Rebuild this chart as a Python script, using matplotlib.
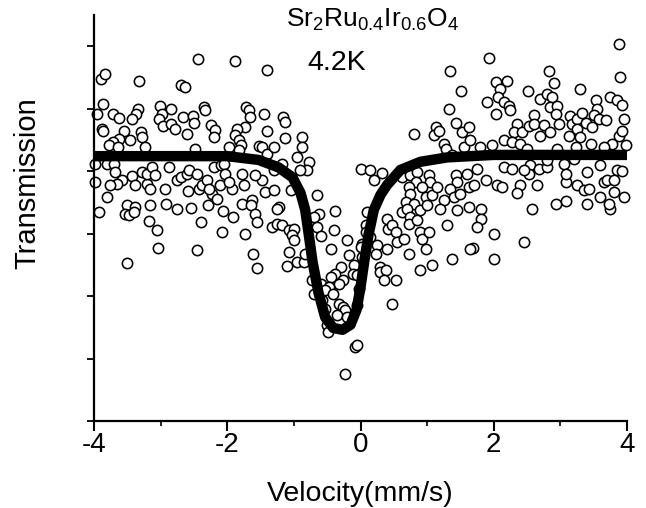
import matplotlib
matplotlib.use("Agg")
import matplotlib.pyplot as plt
from matplotlib.ticker import MultipleLocator

plt.rcParams['font.family'] = ['Liberation Sans', 'DejaVu Sans']
plt.rcParams['mathtext.fontset'] = 'custom'
plt.rcParams['mathtext.rm'] = 'Liberation Sans'
plt.rcParams['mathtext.it'] = 'Liberation Sans:italic'

# measured spectrum: velocity (mm/s) and transmission (arbitrary units, 1 per tick)
velocity = [
    -2.44, -1.89, -1.41, -3.90, -3.84, -3.33, -2.69, -2.63, -3.86, -3.96,
    -3.71, -3.63, -3.34, -3.37, -3.43, -3.01, -2.98, -3.02, -2.96, -2.84,
    -2.85, -2.79, -2.66, -2.61, -2.52, -2.50, -2.35, -2.33, -2.25, -2.18,
    -2.20, -1.72, -1.68, -1.66, -1.74, -1.85, -1.88, -1.83, -1.45, -1.41,
    -3.88, -3.86, -3.55, -3.63, -3.71, -3.78, -3.46, -3.64, -3.30, -3.28,
    -3.24, -2.48, -1.98, -1.80, -1.83, -1.53, -1.48, -1.40, -3.98, -3.80,
    -3.70, -3.68, -3.58, -3.66, -3.76, -3.81, -3.98, -3.43, -3.38, -3.20,
    -3.28, -3.20, -3.13, -3.09, -3.16, -2.88, -2.93, -2.75, -2.70, -2.60,
    -2.58, -2.59, -2.45, -2.43, -2.38, -2.30, -2.23, -2.28, -2.20, -2.10,
    -2.05, -2.03, -2.11, -2.15, -1.93, -1.98, -1.75, -1.48, -1.43, -1.58,
    -1.78, -1.63, -3.93, -3.50, -3.53, -3.48, -3.39, -3.40, -3.16, -3.18,
    -3.05, -3.04, -3.51, -2.92, -2.76, -2.55, -2.39, -2.46, -2.29, -2.06,
    -2.08, -1.92, -1.78, -1.64, -1.59, -1.55, -1.74, -1.61, -1.56, -1.33,
    -1.25, -1.23, -1.17, -1.14, 0.80, 1.14, 1.10, 1.18, 1.34, 1.51,
    1.33, 1.43, 1.52, 1.63, -1.30, -1.13, -0.88, -0.88, -0.95, -0.77,
    -0.81, -0.91, -1.18, -1.30, 1.25, 1.28, 1.55, 1.38, 0.00, 0.14,
    0.20, 0.33, 0.63, 0.75, 0.85, 0.83, 1.03, 1.05, 1.43, 1.45,
    1.60, 0.73, 0.75, 0.93, 0.98, 1.08, 1.15, 1.35, 1.40, 1.50,
    1.63, 0.68, 0.80, 0.90, 1.00, 1.25, 1.20, 1.45, 1.63, -1.30,
    -1.05, -1.25, -0.65, -0.63, -0.38, 0.10, 3.88, 1.93, 3.89, 2.83,
    2.90, 2.04, 2.20, 2.09, 2.06, 2.51, 3.30, 1.90, 2.04, 2.16,
    2.23, 2.25, 2.69, 2.80, 2.88, 2.85, 2.95, 2.93, 3.53, 3.55,
    3.50, 3.75, 3.85, 3.93, 3.96, 3.58, 3.68, 2.35, 2.30, 2.43,
    2.53, 2.61, 2.60, 2.75, 2.70, 2.85, 2.98, 3.15, 3.18, 3.25,
    3.33, 3.25, 3.38, 3.48, 3.13, 3.30, 3.46, 3.88, 3.93, 3.78,
    3.66, 3.98, 2.15, 2.28, 2.40, 2.50, 1.98, 1.79, 1.65, 2.95,
    3.23, 1.75, 2.15, 2.28, 2.55, 2.68, 2.80, 2.80, 3.05, 3.20,
    3.40, 3.60, 3.85, 3.93, 1.70, 1.88, 2.05, 2.13, 2.40, 2.35,
    2.65, 2.53, 2.45, 3.08, 3.08, 3.25, 3.35, 3.43, 3.65, 3.70,
    3.80, 3.80, 3.95, 3.60, 1.81, 1.81, 2.58, 2.93, 3.09, 3.40,
    3.75, 1.75, 2.00, 1.69, 2.01, 2.45, 3.73, -0.70, -1.18, -1.08,
    -1.00, -1.03, -1.00, -1.08, -0.95, -0.85, -1.10, -0.83, -0.65, -0.60,
    -0.40, -0.44, -0.20, -0.18, -0.10, -0.30, -0.38, -0.45, -0.27, -0.33,
    -0.12, -0.06, -0.73, -0.60, -0.48, -0.53, -0.42, -0.70, -0.58, -0.53,
    -0.33, -0.27, -0.23, -0.35, -0.21, -0.50, -0.49, -0.08, -0.05, -0.23,
    -0.03, -0.05, 0.03, 0.03, 0.08, 0.08, 0.00, 0.15, 0.25, 0.23,
    0.30, 0.30, 0.38, 0.35, 0.53, 0.40, 0.40, 0.42, 0.48, 0.48,
    0.53, 0.55, 0.65, 0.63, 0.70, 0.75, 0.73, 0.85, 0.90, 0.93,
    1.03, 0.98, 0.73, 0.90, 1.08, 1.38, 1.30, 1.65,
]
transmission = [
    5.79, 5.76, 5.62, 5.47, 5.55, 5.44, 5.38, 5.34, 5.07, 4.91,
    4.91, 4.85, 5.00, 4.91, 4.84, 5.04, 4.92, 4.84, 4.72, 4.99,
    4.76, 4.68, 4.86, 4.59, 4.88, 4.77, 5.03, 4.98, 4.74, 4.66,
    4.54, 5.03, 4.98, 4.86, 4.70, 4.67, 4.58, 4.50, 4.91, 4.64,
    4.68, 4.64, 4.64, 4.52, 4.47, 4.42, 4.50, 4.39, 4.63, 4.55,
    4.39, 4.35, 4.39, 4.42, 4.34, 4.40, 4.39, 4.28, 4.12, 4.12,
    4.12, 3.99, 3.86, 3.80, 3.78, 3.59, 3.83, 3.92, 3.78, 3.80,
    3.99, 3.96, 4.07, 3.94, 3.72, 4.07, 3.71, 3.86, 3.91, 3.96,
    4.02, 3.68, 3.96, 3.71, 3.78, 3.86, 3.64, 3.72, 4.07, 4.10,
    4.12, 3.96, 3.78, 3.55, 3.71, 3.83, 3.78, 3.86, 3.67, 3.94,
    3.96, 3.54, 3.35, 3.46, 3.32, 3.30, 3.43, 3.35, 3.46, 3.20,
    3.06, 2.77, 2.53, 3.47, 3.39, 3.41, 3.19, 2.74, 3.46, 3.36,
    3.02, 3.27, 3.47, 3.46, 3.31, 3.19, 3.00, 2.67, 2.45, 3.11,
    3.15, 3.42, 4.87, 4.79, 4.59, 4.70, 4.58, 4.64, 5.60, 5.28,
    4.99, 4.77, 4.63, 4.71, 4.39, 4.53, 4.54, 4.39, 4.22, 4.15,
    4.02, 4.02, 4.12, 4.02, 4.44, 4.36, 4.39, 4.26, 4.03, 4.02,
    3.86, 3.97, 3.91, 3.94, 3.99, 3.83, 3.94, 3.83, 3.94, 3.83,
    3.96, 3.75, 3.64, 3.75, 3.59, 3.62, 3.75, 3.72, 3.59, 3.64,
    3.75, 3.51, 3.48, 3.38, 3.46, 3.54, 3.40, 3.38, 3.43, 3.70,
    3.70, 3.40, 3.62, 3.32, 3.36, 3.35, 6.03, 5.81, 5.50, 5.60,
    5.41, 5.42, 5.44, 5.31, 5.19, 5.28, 5.31, 5.11, 4.92, 5.11,
    5.04, 4.98, 5.15, 5.24, 5.19, 5.02, 5.04, 4.92, 5.14, 5.00,
    4.90, 5.18, 5.14, 5.06, 4.83, 4.84, 4.82, 4.76, 4.63, 4.63,
    4.72, 4.90, 4.75, 4.74, 4.56, 4.63, 4.75, 4.88, 4.75, 4.84,
    4.93, 4.68, 4.77, 4.71, 4.56, 4.55, 4.44, 4.56, 4.64, 4.43,
    4.39, 4.42, 4.50, 4.47, 4.44, 4.36, 4.42, 4.39, 4.50, 4.36,
    4.39, 4.04, 4.07, 4.04, 4.10, 4.04, 4.07, 4.18, 4.12, 4.20,
    3.99, 4.10, 4.02, 4.00, 3.78, 3.86, 3.78, 3.74, 3.78, 3.65,
    3.78, 3.96, 4.02, 3.83, 3.96, 3.78, 3.70, 3.71, 3.83, 3.86,
    3.86, 3.67, 3.59, 3.59, 3.40, 3.24, 3.39, 3.47, 3.52, 3.48,
    3.39, 3.10, 3.00, 2.77, 2.59, 2.86, 3.47, 3.27, 3.14, 3.06,
    3.08, 2.98, 2.90, 2.71, 2.55, 2.55, 2.48, 2.68, 3.11, 2.96,
    3.06, 2.76, 2.90, 2.66, 2.50, 2.47, 2.36, 2.31, 2.26, 2.20,
    2.36, 2.34, 2.26, 2.20, 2.15, 2.10, 2.04, 2.04, 1.94, 1.80,
    1.88, 1.83, 1.78, 1.70, 1.67, 1.54, 1.43, 1.19, 1.22, 0.76,
    2.12, 1.86, 2.84, 2.63, 3.14, 3.03, 2.79, 2.95, 2.82, 2.68,
    2.47, 2.39, 2.42, 2.26, 2.26, 2.76, 3.24, 3.08, 3.14, 1.87,
    3.03, 2.87, 2.92, 3.35, 3.40, 3.27, 3.16, 3.22, 3.03, 2.92,
    3.03, 2.76, 2.68, 2.42, 2.50, 2.59, 3.14, 2.76,
]

# fitted curve
fit_velocity = [-4.0, -2.0, -1.53, -1.23, -1.02, -0.90, -0.83, -0.78, -0.72,
                -0.63, -0.53, -0.41, -0.27, -0.15, -0.06, 0.00, 0.06, 0.12,
                0.20, 0.30, 0.40, 0.60, 0.90, 1.30, 2.0, 4.0]
fit_transmission = [4.24, 4.24, 4.18, 4.06, 3.90, 3.65, 3.38, 3.01, 2.55,
                    2.05, 1.66, 1.49, 1.46, 1.54, 1.78, 2.14, 2.58, 2.98,
                    3.38, 3.62, 3.78, 4.02, 4.15, 4.22, 4.26, 4.26]

x_ticks = [-4, -2, 0, 2, 4]
x_tick_labels = ['-4', '-2', '0', '2', '4']

fig = plt.figure(figsize=(6.46, 5.08), dpi=100)
ax = fig.add_axes([94 / 646, 1 - 421 / 508, 533 / 646, 406 / 508])

ax.scatter(velocity, transmission, s=55, facecolors='white', edgecolors='black',
           linewidths=1.15, clip_on=False, zorder=2)
ax.plot(fit_velocity, fit_transmission, color='black', lw=7.5,
        solid_joinstyle='round', solid_capstyle='butt', zorder=3)

ax.set_xlim(-4, 4)
ax.set_ylim(0, 6.5)
ax.set_xticks(x_ticks)
ax.set_xticklabels(x_tick_labels)
ax.xaxis.set_minor_locator(MultipleLocator(1))
ax.yaxis.set_major_locator(MultipleLocator(1))
ax.set_yticklabels([])

for side in ['top', 'right']:
    ax.spines[side].set_visible(False)
for side in ['left', 'bottom']:
    ax.spines[side].set_linewidth(1.6)

ax.tick_params(axis='x', which='major', direction='out', length=7, width=1.5,
               labelsize=20, pad=1)
ax.tick_params(axis='x', which='minor', direction='out', length=3.5, width=1.2)
ax.tick_params(axis='y', which='major', direction='out', length=5, width=1.3)

ax.set_xlabel('Velocity(mm/s)', fontsize=20.5)
ax.xaxis.set_label_coords(0.5, -0.148)
ax.set_ylabel('Transmission', fontsize=21)
ax.yaxis.set_label_coords(-0.098, 0.586)

ax.text(0.18, 6.42, r'Sr$_2$Ru$_{0.4}$Ir$_{0.6}$O$_4$', fontsize=19,
        ha='center', va='center')
ax.text(-0.36, 5.73, '4.2K', fontsize=20.5, ha='center', va='center')

fig.savefig('out.png', dpi=100)
